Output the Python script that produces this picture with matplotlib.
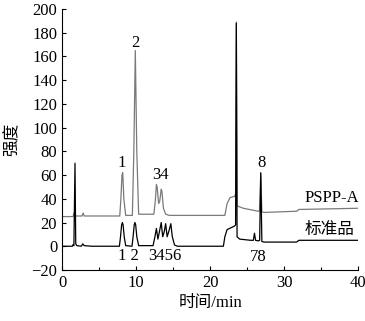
import matplotlib
matplotlib.use('Agg')
from matplotlib import pyplot as plt
from matplotlib.ticker import MultipleLocator

# serif digits, CJK fallback for the Chinese labels
plt.rcParams['font.family'] = ['Liberation Serif', 'Noto Sans CJK SC']
plt.rcParams['font.size'] = 12

# standard sample trace (time in min, intensity)
std_t = [0, 1.4, 1.5, 1.6, 1.75, 1.85, 2.0, 2.6, 2.8, 3.0, 4.0,
         7.75, 7.9, 8.05, 8.15, 8.25, 8.4, 8.6, 9.45, 9.6, 9.75, 9.85, 9.95, 10.1, 10.35,
         12.3, 12.55, 12.75, 12.95, 13.15, 13.4, 13.6, 13.8, 14.0, 14.2, 14.45, 14.7, 14.9, 15.2, 15.6,
         21.8, 22.0, 22.3, 22.8, 23.3, 23.45, 23.55, 23.65, 24.0,
         25.5, 25.85, 26.0, 26.15, 26.5, 26.7, 26.85, 27.0, 27.3, 31.7, 32.0, 40]
std_v = [0, 0, 1.5, 0.5, 70, 2, 0.5, 0, 2, 0.5, 0,
         0, 8, 18, 20, 18, 8, 0.5, 0, 8, 18, 20, 18, 8, 0.5,
         0.5, 8, 15, 6, 12, 20, 8, 12, 19, 8, 13, 19, 8, 1, 0,
         0, 8, 14, 15.5, 17, 18, 188, 8, 6,
         5, 5, 11, 5, 4.5, 5, 62, 4, 3.5, 3.5, 5, 5]

# PSPP-A trace
pspp_t = [0, 1.5, 1.6, 1.7, 2.7, 2.85, 3.0,
          7.8, 7.95, 8.1, 8.2, 8.35, 8.6, 9.5, 9.7, 9.9, 10.1, 10.35,
          12.4, 12.6, 12.75, 12.85, 13.05, 13.2, 13.4, 13.5, 13.7, 14.0, 14.5,
          22.0, 22.3, 22.7, 23.3, 23.45, 23.55, 23.65, 24.5,
          26.5, 26.7, 26.85, 27.0, 27.3, 31.7, 32.0, 40]
pspp_v = [25, 25, 28, 25.5, 25.5, 28, 25.5,
          25.5, 40, 60, 62, 40, 26, 26, 80, 165, 80, 27,
          27, 38, 52, 50, 36, 38, 48, 46, 32, 27, 26,
          26, 36, 41, 42, 44, 189, 34, 32,
          29.5, 30, 61, 29, 28.5, 29.5, 31, 32]

# peak labels
top_labels = ['1', '2', '34', '8']
top_x = [8.1, 9.9, 13.3, 26.9]
top_y = [70, 171, 60, 70]
bot_labels = ['1 2', '3456', '78']
bot_x = [8.9, 13.9, 26.5]
bot_y = [-8, -8, -9]

fig = plt.figure(figsize=(3.65, 3.21), dpi=100)
ax = fig.add_axes([0.170, 0.159, 0.811, 0.813])

ax.plot(pspp_t, pspp_v, color='#7a7a7a', lw=0.9)
ax.plot(std_t, std_v, color='black', lw=0.9)

for s, x, y in zip(top_labels, top_x, top_y):
    ax.text(x, y, s, ha='center', va='center')
for s, x, y in zip(bot_labels, bot_x, bot_y):
    ax.text(x, y, s, ha='center', va='center')

ax.text(40.2, 41, 'PSPP-A', ha='right', va='center')
ax.text(39.5, 13.5, '标准品', ha='right', va='center')

ax.set_xlim(0, 40)
ax.set_ylim(-20, 200)
ax.xaxis.set_major_locator(MultipleLocator(10))
ax.xaxis.set_minor_locator(MultipleLocator(5))
ax.yaxis.set_major_locator(MultipleLocator(20))
ax.tick_params(direction='in', length=3, width=0.8)
ax.tick_params(which='minor', direction='in', length=2, width=0.8)
ax.spines['top'].set_visible(False)
ax.spines['right'].set_visible(False)

ax.set_xlabel('时间/min', labelpad=3)
ax.set_ylabel('强度', labelpad=8)

fig.savefig('out.png', dpi=100)
